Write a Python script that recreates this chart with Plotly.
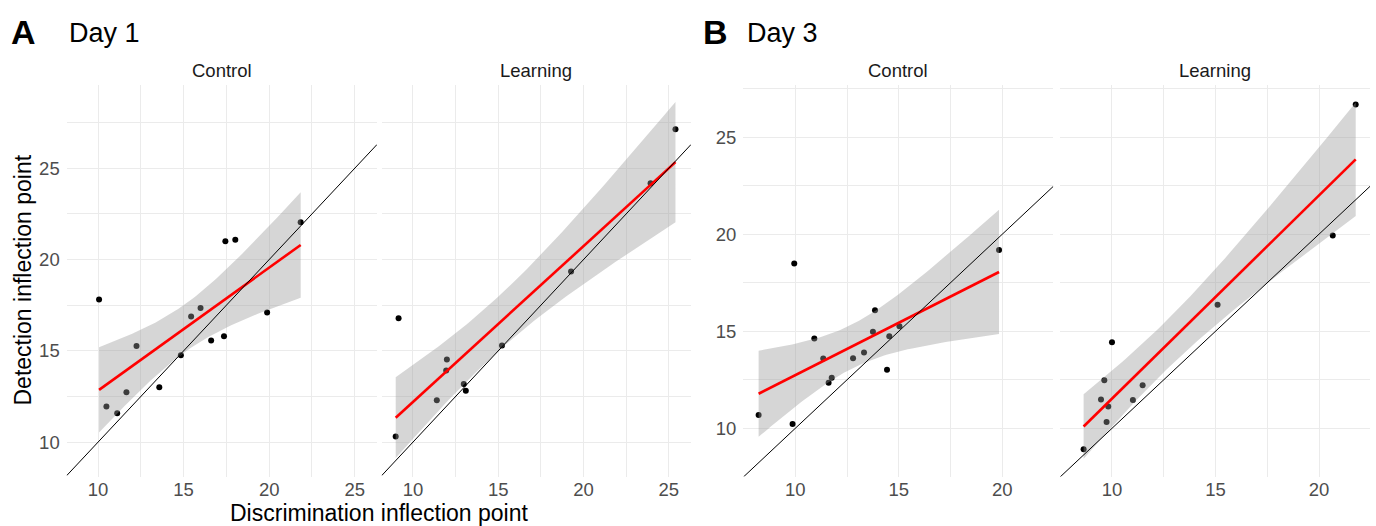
import math
import numpy as np
import plotly.graph_objects as go

# ---------------- data ----------------
d1_control_x = [10.06, 10.49, 11.12, 11.66, 12.25, 13.58, 14.84, 15.44, 15.99, 16.61, 17.36, 17.44, 18.02, 19.88, 21.84]
d1_control_y = [17.81, 11.95, 11.59, 12.74, 15.27, 13.01, 14.76, 16.88, 17.35, 15.57, 15.80, 21.00, 21.08, 17.10, 22.04]

d1_learning_x = [8.99, 9.16, 11.40, 11.99, 11.95, 12.98, 13.10, 15.22, 19.27, 23.93, 25.39]
d1_learning_y = [10.31, 16.79, 12.30, 14.53, 13.92, 13.18, 12.81, 15.29, 19.34, 24.18, 27.13]

d3_control_x = [8.23, 9.87, 9.95, 10.92, 11.35, 11.61, 11.76, 12.79, 13.32, 13.75, 13.85, 14.43, 14.54, 15.03, 19.84]
d3_control_y = [10.69, 10.22, 18.49, 14.62, 13.59, 12.35, 12.61, 13.61, 13.90, 14.97, 16.08, 13.02, 14.74, 15.26, 19.18]

d3_learning_x = [8.63, 9.47, 9.63, 9.74, 9.82, 10.00, 11.01, 11.48, 15.10, 20.66, 21.77]
d3_learning_y = [8.92, 11.49, 12.47, 10.33, 11.12, 14.43, 11.46, 12.22, 16.36, 19.93, 26.68]

facet_labels = ["Control", "Learning"]
panel_letters = ["A", "B"]
panel_titles = ["Day 1", "Day 3"]
x_title = "Discrimination inflection point"
y_title = "Detection inflection point"

range_x_A = [8.17, 26.3]
range_y_A = [8.12, 29.56]
range_x_B = [7.49, 22.46]
range_y_B = [7.52, 27.68]

# ---------------- helpers ----------------
W, H = 1376, 526
FONT = "Liberation Sans, Arial, sans-serif"


def px2x(px):
    return px / W


def py2y(py):
    return 1 - py / H


def t_ppf(p, df):
    c = math.gamma((df + 1) / 2) / (math.sqrt(df * math.pi) * math.gamma(df / 2))

    def cdf(t):
        g = np.linspace(0, t, 4001)
        f = c * (1 + g ** 2 / df) ** (-(df + 1) / 2)
        return 0.5 + np.trapezoid(f, g)

    lo, hi = 0.0, 50.0
    for _ in range(80):
        mid = (lo + hi) / 2
        if cdf(mid) < p:
            lo = mid
        else:
            hi = mid
    return (lo + hi) / 2


def lm_band(x, y, n=80):
    x = np.asarray(x, float)
    y = np.asarray(y, float)
    N = len(x)
    b, a = np.polyfit(x, y, 1)
    res = y - (a + b * x)
    s = math.sqrt(np.sum(res ** 2) / (N - 2))
    xb = x.mean()
    sxx = np.sum((x - xb) ** 2)
    gx = np.linspace(x.min(), x.max(), n)
    yh = a + b * gx
    se = s * np.sqrt(1 / N + (gx - xb) ** 2 / sxx)
    tq = t_ppf(0.975, N - 2)
    return gx, yh, yh - tq * se, yh + tq * se


fig = go.Figure()

facets = [
    (d1_control_x, d1_control_y, "x", "y", range_x_A),
    (d1_learning_x, d1_learning_y, "x2", "y2", range_x_A),
    (d3_control_x, d3_control_y, "x3", "y3", range_x_B),
    (d3_learning_x, d3_learning_y, "x4", "y4", range_x_B),
]

for xs, ys, xa, ya, xr in facets:
    fig.add_trace(go.Scatter(x=xs, y=ys, mode="markers", xaxis=xa, yaxis=ya,
                             marker=dict(color="black", size=6, line=dict(width=0)),
                             showlegend=False, hoverinfo="skip"))
    gx, yh, lo, hi = lm_band(xs, ys)
    fig.add_trace(go.Scatter(x=np.concatenate([gx, gx[::-1]]), y=np.concatenate([hi, lo[::-1]]),
                             mode="lines", fill="toself", fillcolor="rgba(153,153,153,0.4)",
                             line=dict(width=0), xaxis=xa, yaxis=ya, showlegend=False,
                             hoverinfo="skip"))
    fig.add_trace(go.Scatter(x=gx, y=yh, mode="lines", line=dict(color="#FF0000", width=2.6),
                             xaxis=xa, yaxis=ya, showlegend=False, hoverinfo="skip"))
    fig.add_trace(go.Scatter(x=xr, y=xr, mode="lines", line=dict(color="black", width=1),
                             xaxis=xa, yaxis=ya, showlegend=False, hoverinfo="skip"))

domains_x = [(66.7, 377), (381.7, 691), (743.3, 1053.3), (1060, 1370)]
y_dom = [py2y(476.5), py2y(85)]

grid = dict(showgrid=True, gridcolor="#EBEBEB", gridwidth=1.4, zeroline=False,
            showline=False, ticks="", tick0=0, dtick=5,
            minor=dict(showgrid=True, gridcolor="#EBEBEB", gridwidth=0.7, dtick=2.5, tick0=0),
            tickfont=dict(family=FONT, size=18.5, color="#4D4D4D"))

layout = dict(width=W, height=H, margin=dict(l=0, r=0, t=0, b=0),
              plot_bgcolor="white", paper_bgcolor="white", showlegend=False)

names_x = ["xaxis", "xaxis2", "xaxis3", "xaxis4"]
names_y = ["yaxis", "yaxis2", "yaxis3", "yaxis4"]
anchors_x = ["y", "y2", "y3", "y4"]
anchors_y = ["x", "x2", "x3", "x4"]
for i in range(4):
    xr = range_x_A if i < 2 else range_x_B
    yr = range_y_A if i < 2 else range_y_B
    layout[names_x[i]] = dict(grid, domain=[px2x(domains_x[i][0]), px2x(domains_x[i][1])],
                              range=xr, anchor=anchors_x[i], ticklabelstandoff=0)
    layout[names_y[i]] = dict(grid, domain=y_dom, range=yr, anchor=anchors_y[i],
                              showticklabels=(i % 2 == 0), ticklabelstandoff=6)

ann = []
# panel letters and titles
for letter, title, lx, tx in [(panel_letters[0], panel_titles[0], 9, 66.5),
                              (panel_letters[1], panel_titles[1], 701, 744.5)]:
    ann.append(dict(text="<b>%s</b>" % letter, x=px2x(lx), y=py2y(32), xref="paper", yref="paper",
                    xanchor="left", yanchor="middle", showarrow=False,
                    font=dict(family=FONT, size=34, color="black")))
    ann.append(dict(text=title, x=px2x(tx), y=py2y(33), xref="paper", yref="paper",
                    xanchor="left", yanchor="middle", showarrow=False,
                    font=dict(family=FONT, size=27, color="black")))
# strip labels
for i in range(4):
    cx = (domains_x[i][0] + domains_x[i][1]) / 2
    ann.append(dict(text=facet_labels[i % 2], x=px2x(cx), y=py2y(70), xref="paper", yref="paper",
                    xanchor="center", yanchor="middle", showarrow=False,
                    font=dict(family=FONT, size=18.5, color="#1A1A1A")))
# axis titles
ann.append(dict(text=y_title, x=px2x(22), y=py2y(280.5), xref="paper", yref="paper",
                xanchor="center", yanchor="middle", textangle=-90, showarrow=False,
                font=dict(family=FONT, size=23, color="black")))
ann.append(dict(text=x_title, x=px2x(378.8), y=py2y(513), xref="paper", yref="paper",
                xanchor="center", yanchor="middle", showarrow=False,
                font=dict(family=FONT, size=23, color="black")))
layout["annotations"] = ann

fig.update_layout(**layout)
fig.write_html("out.html")
